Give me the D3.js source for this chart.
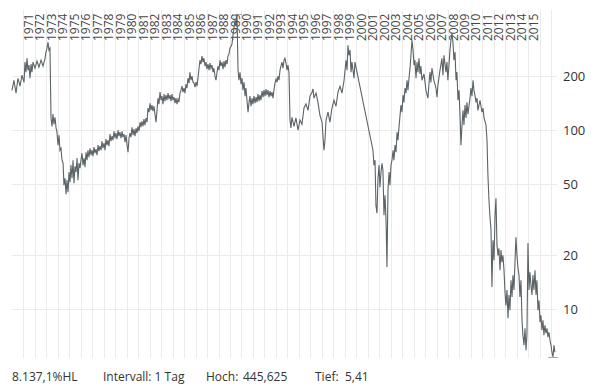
<!DOCTYPE html>
<html>
<head>
<meta charset="utf-8">
<script src="https://cdn.jsdelivr.net/npm/d3@7/dist/d3.min.js"></script>
<style>
  body { margin: 0; background: #fff; }
  text { font-family: "Open Sans", sans-serif; }
</style>
</head>
<body>
<div id="chart-area"></div>
<script>
// daily closes (decimal years)
const dates = [
  1970.00,1970.17,1970.35,1970.52,1970.70,1970.87,1971.05,1971.13,1971.22,1971.31,1971.39,1971.48,1971.57,1971.66,1971.74,1971.83,
  1972.00,1972.18,1972.35,1972.53,1972.70,1972.88,1972.96,1973.05,1973.14,1973.22,1973.31,1973.40,1973.49,1973.57,1973.66,1973.75,
  1973.84,1973.92,1974.01,1974.10,1974.18,1974.27,1974.36,1974.45,1974.53,1974.62,1974.71,1974.79,1974.88,1974.97,1975.06,1975.14,
  1975.23,1975.32,1975.40,1975.49,1975.58,1975.67,1975.75,1975.84,1975.93,
  1976.01,1976.10,1976.19,1976.28,1976.36,1976.45,1976.54,1976.62,1976.71,1976.80,
  1976.89,1976.97,1977.06,1977.15,1977.23,1977.32,1977.41,1977.50,1977.58,1977.67,
  1977.76,1977.84,1977.93,1978.02,1978.11,1978.19,1978.28,1978.37,1978.45,1978.54,
  1978.63,1978.72,1978.80,1978.89,1978.98,1979.06,1979.15,1979.24,1979.32,1979.41,
  1979.50,1979.59,1979.67,1979.76,1979.85,1979.94,1980.02,1980.11,1980.20,1980.28,
  1980.37,1980.46,1980.55,1980.63,1980.72,1980.81,1980.89,1980.98,1981.07,1981.16,
  1981.24,1981.33,1981.42,1981.50,1981.59,1981.68,1981.77,1981.85,1981.94,1982.03,
  1982.11,1982.20,1982.29,1982.38,1982.46,1982.55,1982.64,1982.72,1982.81,1982.90,
  1982.99,1983.07,1983.16,1983.25,1983.33,1983.42,1983.51,1983.60,1983.68,1983.77,
  1983.86,1983.94,1984.03,1984.12,1984.21,1984.29,1984.38,1984.47,1984.55,1984.64,
  1984.73,1984.82,1984.90,1984.99,1985.08,1985.16,1985.25,1985.34,1985.43,1985.51,
  1985.60,1985.69,1985.77,1985.86,1985.95,1986.04,1986.12,1986.21,1986.30,1986.38,
  1986.47,1986.56,1986.65,1986.73,1986.82,1986.91,1986.99,1987.08,1987.17,1987.26,
  1987.34,1987.43,1987.52,1987.60,1987.69,1987.78,1987.87,1987.95,1988.04,1988.13,
  1988.21,1988.30,1988.39,1988.48,1988.56,1988.65,1988.74,1988.82,1988.91,1989.00,1989.09,
  1989.17,1989.26,1989.35,1989.44,1989.52,1989.61,
  1989.70,1989.78,1989.87,1989.96,1990.05,1990.13,1990.22,1990.31,1990.39,1990.48,
  1990.57,1990.66,1990.74,1990.83,1990.92,1991.00,1991.09,1991.18,1991.27,1991.35,
  1991.44,1991.53,1991.61,1991.70,1991.79,1991.88,1991.96,1992.05,1992.14,1992.22,
  1992.31,1992.40,1992.49,1992.57,1992.66,1992.75,1992.83,1992.92,1993.01,1993.10,
  1993.18,1993.27,1993.36,1993.44,1993.53,1993.62,1993.71,1993.79,1993.88,1993.97,
  1994.05,1994.14,
  1994.23,1994.31,1994.40,1994.58,1994.75,1994.93,1995.10,1995.27,
  1995.45,1995.62,1995.80,1995.97,1996.15,1996.23,1996.32,1996.50,1996.67,1996.84,1997.02,1997.19,1997.28,1997.37,1997.54,1997.71,
  1997.89,1998.06,1998.24,1998.41,1998.59,1998.76,1998.94,1999.11,1999.20,1999.28,1999.37,1999.46,1999.55,1999.63,1999.81,1999.89,
  2001.46,2001.55,2001.64,2001.72,2001.81,2001.90,2001.99,2002.07,2002.16,2002.25,2002.33,2002.42,2002.51,2002.60,2002.68,2002.77,
  2002.86,2002.94,2003.03,2003.12,2003.21,2003.29,2003.38,2003.47,2003.56,2003.64,2003.73,2003.82,2003.90,2003.99,2004.08,2004.16,
  2004.25,2004.34,2004.43,2004.51,2004.60,2004.69,2004.77,2004.86,2004.95,2005.04,2005.12,2005.21,2005.30,2005.38,2005.47,2005.56,
  2005.64,2005.73,2005.91,2006.08,2006.25,2006.34,2006.43,2006.51,2006.60,2006.77,2006.95,2007.04,2007.12,2007.30,2007.47,2007.56,
  2007.65,2007.82,2007.91,2007.99,2008.08,2008.17,2008.26,2008.35,2008.43,2008.52,2008.61,2008.70,2008.78,2008.87,2008.96,2009.04,
  2009.13,2009.22,2009.31,2009.39,2009.48,2009.57,2009.65,2009.74,2009.92,2010.00,2010.09,2010.18,2010.26,2010.35,2010.44,2010.53,
  2010.61,2010.79,2010.96,2011.05,2011.14,2011.31,2011.40,2011.48,2011.57,2011.66,2011.75,2011.83,2011.92,2012.01,2012.10,2012.18,
  2012.27,2012.36,2012.44,2012.53,2012.62,2012.70,2012.79,2012.88,2012.97,2013.05,2013.14,2013.23,2013.31,2013.40,2013.49,2013.58,
  2013.66,2013.75,2013.84,2013.92,2014.01,2014.10,2014.19,2014.27,2014.36,2014.45,2014.53,2014.62,2014.71,2014.80,2014.88,2014.97,
  2015.06,2015.14,2015.23,2015.32,2015.40,2015.49,2015.58,2015.67,2015.75,2015.84,2015.93,2016.02,2016.10,2016.19,2016.28,2016.36,
  2016.45,2016.54,2016.63,2016.71,2016.80,2016.89,2016.98,2017.06,2017.15,2017.24,2017.32
]
const prices = [
  167,190,161,195,176,203,185,240,211,252,216,231,195,234,211,240,
  222,243,225,246,228,252,273,287,310,280,287,117,105,123,108,118,
  103,97.5,82.5,93.8,77.3,79.3,68.0,65.4,49.3,53.9,43.9,52.6,45.0,58.3,51.2,63.8,
  53.9,68.0,50.6,62.9,58.3,69.8,52.6,65.4,61.3,
  68.0,74.4,63.8,69.8,62.1,75.3,68.0,77.3,70.7,79.3,
  72.5,77.3,71.6,80.4,74.4,78.3,72.5,82.5,76.3,81.4,
  77.3,86.8,79.3,84.6,77.3,89.1,82.5,87.9,81.4,95.0,
  86.8,92.6,87.9,98.7,90.2,96.2,89.1,100,92.6,97.5,
  90.2,98.7,91.4,95.0,85.7,93.8,83.5,75.3,90.2,96.2,
  91.4,103.9,93.8,101.3,92.6,102.6,96.2,105.2,98.7,110.8,
  103.9,112.2,105.2,115.2,106.6,116.7,110.8,132.8,126.1,141.5,
  129.4,137.9,127.7,136.1,122.9,110.8,129.4,150.9,139.7,163.1,
  147.1,154.9,139.7,158.9,145.2,156.9,147.1,161.0,148.9,156.9,
  145.2,158.9,147.1,152.9,141.5,150.9,139.7,148.9,143.4,161.0,
  167.3,176.1,163.1,171.7,161.0,180.7,171.7,195.2,183.1,210.8,
  190.2,200.3,185.4,183.1,173.9,185.4,176.1,195.2,221.9,246.0,
  233.7,259.0,239.8,252.4,227.7,239.8,219.1,233.7,216.3,236.7,
  221.9,230.7,210.8,221.9,200.3,190.2,210.8,227.7,216.3,246.0,
  227.7,239.8,219.1,242.9,224.8,246.0,233.7,259.0,265.8,287.1,294.6,
  302,339,371,412,381,445.625,
  216.3,190.2,210.8,180.7,195.2,167.3,185.4,154.9,171.7,147.1,
  126.1,143.4,154.9,136.1,150.9,139.7,154.9,141.5,152.9,143.4,
  158.9,145.2,156.9,147.1,165.2,152.9,167.3,154.9,169.5,156.9,
  167.3,152.9,165.2,154.9,163.1,150.9,167.3,183.1,192.7,185.4,
  200.3,190.2,216.3,227.7,239.8,221.9,246.0,252.4,236.7,216.3,
  230.7,210.8,
  114,103,118,105,117,100,114,108,
  133,140,129,155,163,170,151,161,143,121,111,77.3,87.9,114,126,111,
  133,147,136,163,176,161,190,246,216,298,262,280,211,240,195,240,
  77.3,63.8,68.0,38.1,34.4,53.9,63.8,48.0,58.3,65.4,59.8,33.5,43.3,31.4,17.2,46.2,
  58.3,49.3,63.8,68.0,77.3,68.0,82.5,75.3,97.5,87.9,104,121,138,126,157,143,
  172,161,190,167,195,222,262,318,280,231,246,195,240,211,252,206,
  228,190,206,167,151,181,211,185,222,190,172,153,178,216,252,203,
  262,211,240,190,228,280,318,348,310,246,273,190,211,147,167,126,
  82.5,107,129,107,138,117,143,123,151,172,155,190,167,157,143,151,
  129,147,126,133,117,107,87.9,56.1,40.6,32.7,27.6,13.3,24.3,18.8,33.5,41.7,
  22.8,20.0,21.9,16.5,21.4,18.3,20.0,16.5,12.4,10.5,12.8,8.91,12.0,9.87,14.5,11.7,
  15.5,12.8,18.3,25.2,20.0,17.0,15.5,11.7,14.5,8.68,7.16,6.29,7.83,5.90,7.16,23.4,
  12.8,16.1,13.6,12.0,15.5,12.8,16.5,12.0,14.5,9.87,11.2,8.46,9.26,7.63,8.68,7.16,
  8.14,7.35,7.83,6.98,7.44,6.71,6.29,5.75,5.41,6.29,5.75
]

const yTicks = [10, 20, 50, 100, 200]
const yearLabels = d3.range(1971, 2016)
const gridYears = d3.range(1971, 2018)
const infoTexts = ["8.137,1%HL", "Intervall: 1 Tag", "Hoch:", "445,625", "Tief:", "5,41"]
const infoX = [12, 103, 206, 243, 315, 345]

const WIDTH = 597
const HEIGHT = 386
const PLOT = {LEFT: 12, RIGHT: 557, TOP: 10, BOTTOM: 358}

const n = Math.min(dates.length, prices.length)
const data = d3.range(n).map(i => ({date: dates[i], price: prices[i]}))

const svg = d3.select("#chart-area").append("svg")
  .attr("width", WIDTH)
  .attr("height", HEIGHT)

const x = d3.scaleLinear()
  .domain([1970, 2017.5])
  .range([PLOT.LEFT, PLOT.RIGHT])

// log scale spans exactly low..high of the series
const y = d3.scaleLog()
  .domain([d3.min(prices), d3.max(prices)])
  .range([357, 14])

// grid
svg.append("g").selectAll("line").data(gridYears).enter().append("line")
  .attr("x1", d => Math.round(x(d)) + 0.5)
  .attr("x2", d => Math.round(x(d)) + 0.5)
  .attr("y1", PLOT.TOP)
  .attr("y2", PLOT.BOTTOM)
  .attr("stroke", "#ebebeb")

svg.append("g").selectAll("line").data(yTicks).enter().append("line")
  .attr("x1", PLOT.LEFT)
  .attr("x2", PLOT.RIGHT)
  .attr("y1", d => Math.round(y(d)) + 0.5)
  .attr("y2", d => Math.round(y(d)) + 0.5)
  .attr("stroke", "#ebebeb")

// year labels on top
svg.append("g").selectAll("text").data(yearLabels).enter().append("text")
  .attr("transform", d => `translate(${x(d) + 9.5}, 41) rotate(-90)`)
  .attr("font-size", "12px")
  .attr("fill", "#444")
  .text(d => d)

// price axis on the right
const yAxisCall = d3.axisRight(y)
  .tickValues(yTicks)
  .tickSize(0)
  .tickPadding(6)
  .tickFormat(d3.format("d"))

const yAxis = svg.append("g")
  .attr("transform", `translate(${PLOT.RIGHT}, 0)`)
  .call(yAxisCall)
yAxis.select(".domain").remove()
yAxis.selectAll("text")
  .attr("font-family", "Open Sans, sans-serif")
  .attr("font-size", "13px")
  .attr("fill", "#333")

// high / low markers
const hiPt = data[d3.maxIndex(data, d => d.price)]
const loPt = data[d3.minIndex(data, d => d.price)]
svg.selectAll(".marker").data([hiPt, loPt]).enter().append("line")
  .attr("class", "marker")
  .attr("x1", d => x(d.date) - 5)
  .attr("x2", d => x(d.date) + 5)
  .attr("y1", d => Math.round(y(d.price)) + 0.5)
  .attr("y2", d => Math.round(y(d.price)) + 0.5)
  .attr("stroke", "#aaa")

// price line
const line = d3.line()
  .x(d => x(d.date))
  .y(d => y(d.price))

svg.append("path")
  .datum(data)
  .attr("d", line)
  .attr("fill", "none")
  .attr("stroke", "#5b6367")
  .attr("stroke-width", 1.1)

// footer info
svg.append("g").selectAll("text").data(infoTexts).enter().append("text")
  .attr("x", (d, i) => infoX[i])
  .attr("y", 381)
  .attr("font-size", "12px")
  .attr("fill", "#333")
  .text(d => d)
</script>
</body>
</html>
